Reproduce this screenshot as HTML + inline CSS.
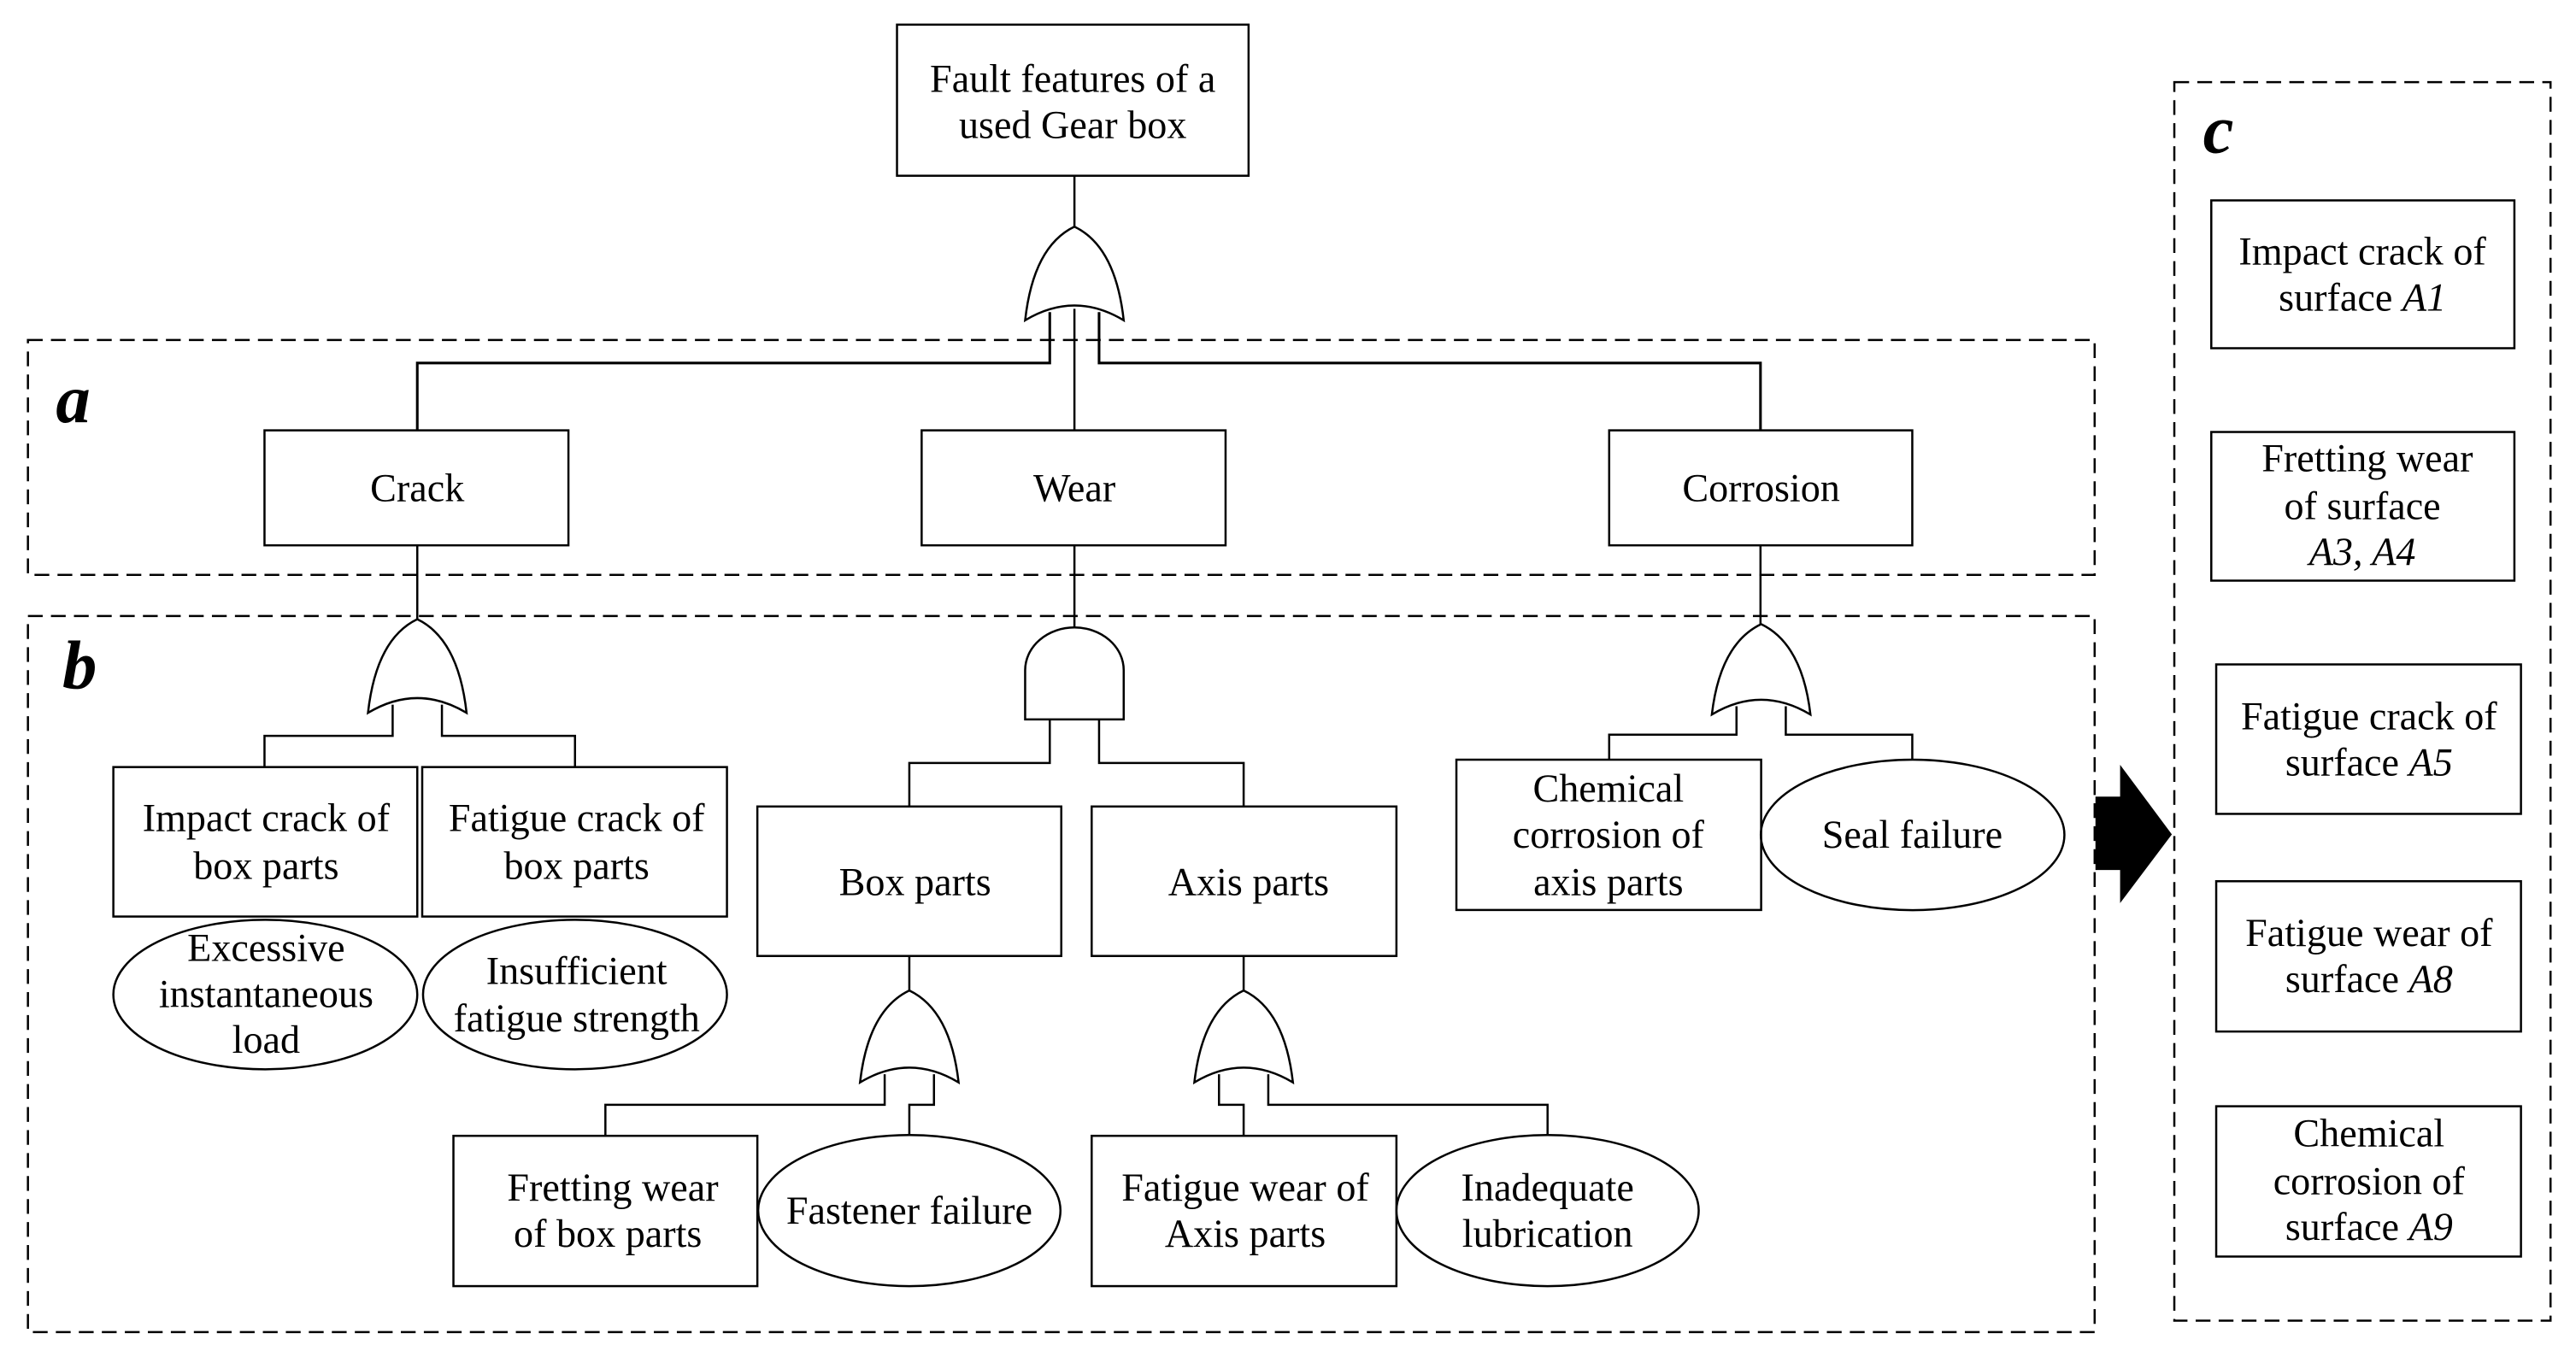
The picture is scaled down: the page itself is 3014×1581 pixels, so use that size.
<!DOCTYPE html>
<html><head><meta charset="utf-8"><style>
html,body{margin:0;padding:0;background:#fff;}
svg{display:block;}
text{font-family:"Liberation Serif",serif;font-size:24px;fill:#000;text-anchor:middle;}
.lbl{font-size:42px;font-weight:bold;font-style:italic;text-anchor:start;}
</style></head><body>
<svg width="3014" height="1581" viewBox="0 0 1568 822.5" preserveAspectRatio="none" xmlns="http://www.w3.org/2000/svg">
<g fill="none" stroke="#000" stroke-width="1.3">
<!-- dashed boxes -->
<rect x="17" y="207" width="1258" height="143" stroke-dasharray="9,5"/>
<rect x="17" y="375" width="1258" height="436" stroke-dasharray="9,5"/>
<rect x="1323.5" y="50" width="229" height="754" stroke-dasharray="9,5"/>
<!-- boxes -->
<rect x="546" y="15" width="214" height="92"/>
<rect x="161" y="262" width="185" height="70"/>
<rect x="561" y="262" width="185" height="70"/>
<rect x="979.5" y="262" width="184.5" height="70"/>
<rect x="69" y="467" width="185" height="91"/>
<rect x="257" y="467" width="185.5" height="91"/>
<rect x="461" y="491" width="185" height="91"/>
<rect x="664.5" y="491" width="185.5" height="91"/>
<rect x="276" y="691.5" width="185" height="91.5"/>
<rect x="664.5" y="691.5" width="185.5" height="91.5"/>
<rect x="886.5" y="462.5" width="185.5" height="91.5"/>
<rect x="1346" y="122" width="184.5" height="90"/>
<rect x="1346" y="263" width="184.5" height="90.5"/>
<rect x="1349" y="404.5" width="185.5" height="91"/>
<rect x="1349" y="536.5" width="185.5" height="91.5"/>
<rect x="1349" y="673.5" width="185.5" height="91.5"/>
<!-- ellipses -->
<ellipse cx="161.5" cy="605.5" rx="92.5" ry="45.5"/>
<ellipse cx="350" cy="605.5" rx="92.5" ry="45.5"/>
<ellipse cx="553.5" cy="737" rx="92" ry="46"/>
<ellipse cx="942" cy="737" rx="92" ry="46"/>
<ellipse cx="1164.2" cy="508.3" rx="92.4" ry="45.8"/>
<!-- gates -->
<path d="M624,195 Q629,150 654,138 Q679,150 684,195 Q654,177 624,195 Z"/>
<path d="M224,434 Q229,389 254,377 Q279,389 284,434 Q254,416 224,434 Z"/>
<path d="M523.5,659 Q528.5,615 553.5,603 Q578.5,615 583.5,659 Q553.5,641 523.5,659 Z"/>
<path d="M727,659 Q732,615 757,603 Q782,615 787,659 Q757,641 727,659 Z"/>
<path d="M1042,435 Q1047,392 1072,380 Q1097,392 1102,435 Q1072,417 1042,435 Z"/>
<path d="M624,438 L624,408 A30,26 0 0 1 684,408 L684,438 Z"/>
<!-- connectors -->
<path d="M654,107 V138"/>
<path d="M654,188 V262"/>
<path d="M639,190 V221 H254 V262" stroke-width="1.6"/>
<path d="M669,190 V221 H1071.6 V262" stroke-width="1.6"/>
<path d="M254,332 V377"/>
<path d="M239,429 V448 H161 V467"/>
<path d="M269,429 V448 H350 V467"/>
<path d="M654,332 V382"/>
<path d="M639,438 V464.5 H553.5 V491"/>
<path d="M669,438 V464.5 H757 V491"/>
<path d="M553.5,582 V603"/>
<path d="M538.5,654 V672.6 H368.5 V691.5"/>
<path d="M568.5,654 V672.6 H553.5 V691"/>
<path d="M757,582 V603"/>
<path d="M742,654 V672.6 H757 V691.5"/>
<path d="M772,654 V672.6 H942 V691"/>
<path d="M1071.6,332 V380"/>
<path d="M1057,430 V447.3 H979.5 V462.5"/>
<path d="M1087,430 V447.3 H1164 V462.5"/>
</g>
<!-- arrow -->
<path d="M1275.5,485 H1290.5 V465.6 L1322,508 L1290.5,549.8 V529.7 H1275.5 Z" fill="#000"/>
<!-- labels -->
<text class="lbl" x="34" y="257">a</text>
<text class="lbl" x="38" y="419">b</text>
<text class="lbl" x="1341" y="93">c</text>
<!-- texts -->
<text x="653" y="56">Fault features of a</text>
<text x="653" y="84">used Gear box</text>
<text x="254" y="305">Crack</text>
<text x="654" y="305">Wear</text>
<text x="1072" y="305">Corrosion</text>
<text x="162" y="506">Impact crack of</text>
<text x="162" y="535">box parts</text>
<text x="351" y="506">Fatigue crack of</text>
<text x="351" y="535">box parts</text>
<text x="162" y="585">Excessive</text>
<text x="162" y="613">instantaneous</text>
<text x="162" y="641">load</text>
<text x="351" y="599">Insufficient</text>
<text x="351" y="628">fatigue strength</text>
<text x="557" y="545">Box parts</text>
<text x="760" y="545">Axis parts</text>
<text x="373" y="731">Fretting wear</text>
<text x="370" y="759">of box parts</text>
<text x="553.5" y="745">Fastener failure</text>
<text x="758" y="731">Fatigue wear of</text>
<text x="758" y="759">Axis parts</text>
<text x="942" y="731">Inadequate</text>
<text x="942" y="759">lubrication</text>
<text x="979" y="488">Chemical</text>
<text x="979" y="516">corrosion of</text>
<text x="979" y="545">axis parts</text>
<text x="1164" y="516">Seal failure</text>
<text x="1438" y="161">Impact crack of</text>
<text x="1438" y="189">surface <tspan font-style="italic">A1</tspan></text>
<text x="1441" y="287">Fretting wear</text>
<text x="1438" y="316">of surface</text>
<text x="1438" y="344" font-style="italic">A3, A4</text>
<text x="1442" y="444">Fatigue crack of</text>
<text x="1442" y="472">surface <tspan font-style="italic">A5</tspan></text>
<text x="1442" y="576">Fatigue wear of</text>
<text x="1442" y="604">surface <tspan font-style="italic">A8</tspan></text>
<text x="1442" y="698">Chemical</text>
<text x="1442" y="727">corrosion of</text>
<text x="1442" y="755">surface <tspan font-style="italic">A9</tspan></text>
</svg>
</body></html>
